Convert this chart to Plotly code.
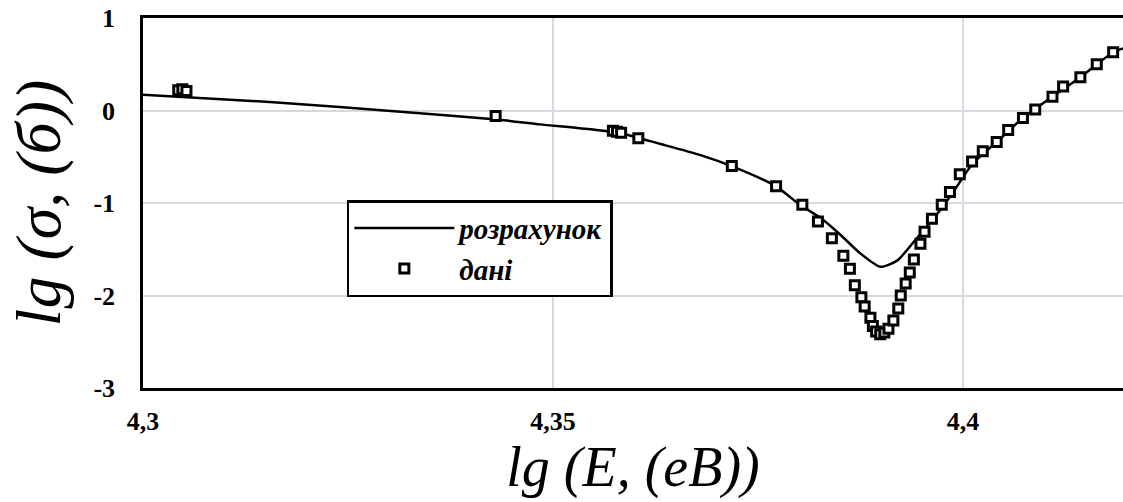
import plotly.graph_objects as go

# Calculated curve: lg(E) vs lg(sigma)
calc_lgE = [4.3000, 4.3159, 4.3322, 4.3435, 4.3484, 4.3579, 4.3630, 4.3679, 4.3720,
            4.3772, 4.3801, 4.3826, 4.3850, 4.3874, 4.3899, 4.3920, 4.3939, 4.3963,
            4.3988, 4.4012, 4.4041, 4.4073, 4.4109, 4.4143, 4.4183, 4.4195]
calc_lgS = [0.17, 0.09, -0.02, -0.10, -0.15, -0.24, -0.36, -0.48, -0.61,
            -0.82, -1.02, -1.16, -1.34, -1.54, -1.69, -1.62, -1.43, -1.18,
            -0.88, -0.57, -0.34, -0.08, 0.15, 0.36, 0.63, 0.67]

# Measured data points
data_lgE = [4.3043, 4.3048, 4.3053, 4.3430, 4.3573, 4.3578, 4.3583, 4.3604, 4.3718,
            4.3772, 4.3804, 4.3823, 4.3840, 4.3854, 4.3862, 4.3868, 4.3876, 4.3880,
            4.3887, 4.3890, 4.3894, 4.3899, 4.3904, 4.3909, 4.3915, 4.3921, 4.3924,
            4.3930, 4.3935, 4.3940, 4.3948, 4.3953, 4.3962, 4.3974, 4.3984, 4.3996,
            4.4011, 4.4024, 4.4041, 4.4055, 4.4073, 4.4088, 4.4109, 4.4122, 4.4143,
            4.4163, 4.4183]
data_lgS = [0.22, 0.23, 0.21, -0.06, -0.22, -0.23, -0.24, -0.30, -0.60,
            -0.82, -1.02, -1.20, -1.38, -1.57, -1.71, -1.89, -2.02, -2.12,
            -2.24, -2.33, -2.39, -2.42, -2.40, -2.36, -2.27, -2.14, -2.00,
            -1.87, -1.75, -1.61, -1.44, -1.31, -1.17, -1.02, -0.88, -0.69,
            -0.55, -0.44, -0.34, -0.21, -0.08, 0.01, 0.15, 0.26, 0.36,
            0.50, 0.63]

x_tickvals = [4.30, 4.35, 4.40]
x_ticktext = ["4,3", "4,35", "4,4"]
y_tickvals = [1, 0, -1, -2, -3]
y_ticktext = ["1", "0", "-1", "-2", "-3"]

serif = "Liberation Serif, Times New Roman, serif"

fig = go.Figure()
fig.add_trace(go.Scatter(
    x=calc_lgE, y=calc_lgS, mode="lines", name="розрахунок",
    line=dict(color="black", width=2.5, shape="spline", smoothing=0.6),
))
fig.add_trace(go.Scatter(
    x=data_lgE, y=data_lgS, mode="markers", name="дані",
    marker=dict(symbol="square", size=9, color="white",
                line=dict(color="black", width=3)),
))

fig.update_layout(
    width=1123, height=502,
    margin=dict(l=143, r=0, t=18, b=114),
    paper_bgcolor="white", plot_bgcolor="white",
    showlegend=True,
    legend=dict(
        x=0.208, y=0.508, xanchor="left", yanchor="top",
        bgcolor="white", bordercolor="black", borderwidth=2.5,
        font=dict(family=serif, size=29, color="black", weight="bold", style="italic"),
        itemwidth=100, tracegroupgap=6,
    ),
)

fig.update_xaxes(
    range=[4.3, 4.4195], tickvals=x_tickvals, ticktext=x_ticktext,
    showgrid=True, gridcolor="#dcd6e0", gridwidth=1.5,
    showline=True, linecolor="black", linewidth=2.5, mirror=True,
    ticks="", ticklabelstandoff=8,
    tickfont=dict(family=serif, size=26, color="black", weight="bold"),
    title=dict(text="lg (E, (eB))", standoff=4,
               font=dict(family=serif, size=56, color="black", style="italic")),
    zeroline=False,
)
fig.update_yaxes(
    range=[-3, 1], tickvals=y_tickvals, ticktext=y_ticktext,
    showgrid=True, gridcolor="#dcd6e0", gridwidth=1.5,
    showline=True, linecolor="black", linewidth=2.5, mirror=False,
    ticks="", ticklabelstandoff=20,
    tickfont=dict(family=serif, size=26, color="black", weight="bold"),
    title=dict(text="lg (σ, (б))", standoff=12,
               font=dict(family=serif, size=64, color="black", style="italic")),
    zeroline=False,
)

fig.write_html("out.html")
